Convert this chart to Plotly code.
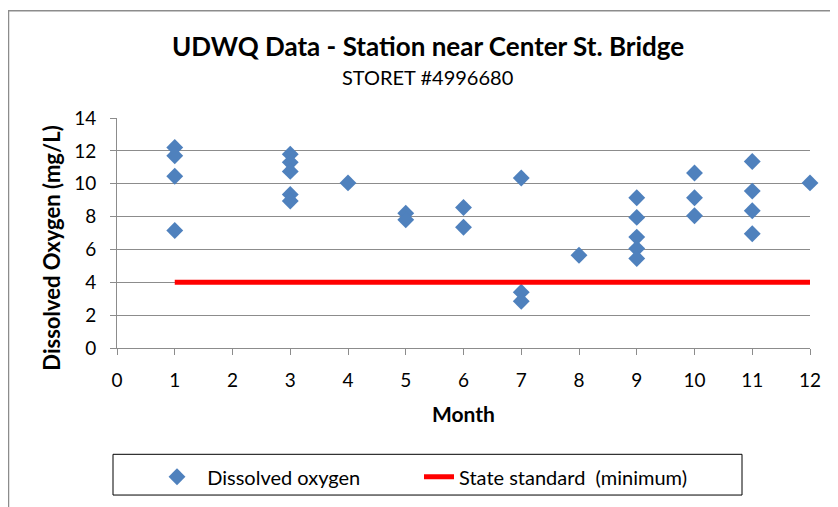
import plotly.graph_objects as go

# ---- data ----
months = [1, 1, 1, 1,
          3, 3, 3, 3, 3,
          4,
          5, 5,
          6, 6,
          7, 7, 7,
          8,
          9, 9, 9, 9, 9,
          10, 10, 10,
          11, 11, 11, 11,
          12]
dissolved_oxygen = [12.2, 11.7, 10.45, 7.15,
                    11.8, 11.3, 10.75, 9.35, 8.95,
                    10.05,
                    8.2, 7.8,
                    8.55, 7.35,
                    10.35, 3.4, 2.85,
                    5.65,
                    9.15, 7.95, 6.75, 6.05, 5.45,
                    10.65, 9.15, 8.05,
                    11.35, 9.55, 8.35, 6.95,
                    10.05]
standard_months = [1, 12]
standard_values = [4, 4]
x_ticks = list(range(0, 13))
y_ticks = list(range(0, 15, 2))

# page offset (the page body has an 8px margin)
OX, OY = 8, 8
W, H = 838 - OX, 507 - OY
# plot area in page pixels
P_LEFT, P_RIGHT, P_TOP, P_BOTTOM = 117, 810, 117.5, 349
L = P_LEFT - OX
R = W - (P_RIGHT - OX)
T = P_TOP - OY
B = H - (P_BOTTOM - OY)
PW, PH = P_RIGHT - P_LEFT, P_BOTTOM - P_TOP


def px(xp):
    return (xp - P_LEFT) / PW


def py(yp):
    return (P_BOTTOM - yp) / PH


FONT = "Lato"
GRID = "#8c8c8c"
NB = "\u00a0"

fig = go.Figure()
fig.add_trace(go.Scatter(
    x=months, y=dissolved_oxygen, mode="markers", name=NB * 2 + "Dissolved oxygen",
    marker=dict(symbol="diamond", size=13, color="#4F81BD",
                line=dict(width=0)),
    cliponaxis=False, legend="legend",
))
fig.add_trace(go.Scatter(
    x=standard_months, y=standard_values, mode="lines",
    name="State standard" + NB * 2 + "(minimum)",
    line=dict(color="#FF0000", width=5),
    cliponaxis=False, legend="legend2",
))

legend_common = dict(orientation="h", xanchor="left", yanchor="middle",
                     bgcolor="rgba(0,0,0,0)", borderwidth=0,
                     font=dict(family=FONT, size=20, color="black"))

fig.update_layout(
    width=W, height=H,
    margin=dict(l=L, r=R, t=T, b=B, pad=0),
    paper_bgcolor="white", plot_bgcolor="white",
    font=dict(family=FONT, size=19, color="black"),
    showlegend=True,
    legend=dict(x=px(157), y=py(477), **legend_common),
    legend2=dict(x=px(419), y=py(477), **legend_common),
    xaxis=dict(range=[0, 12], tickvals=x_ticks, ticktext=[str(v) for v in x_ticks],
               showgrid=False, zeroline=False, showline=True, linecolor=GRID,
               linewidth=1, ticks="outside", ticklen=6, tickcolor=GRID,
               ticklabelstandoff=9,
               tickfont=dict(family=FONT, size=19, color="black"),
               fixedrange=True),
    yaxis=dict(range=[0, 14], tickvals=y_ticks, ticktext=[str(v) for v in y_ticks],
               showgrid=True, gridcolor=GRID, gridwidth=1, zeroline=False,
               showline=True, linecolor=GRID, linewidth=1, ticks="outside",
               ticklen=6, tickcolor=GRID, ticklabelstandoff=10,
               tickfont=dict(family=FONT, size=19, color="black"),
               fixedrange=True),
)

annotations = [
    dict(text="<b>UDWQ Data - Station near Center St. Bridge</b>", x=px(428), y=py(45),
         font=dict(size=26)),
    dict(text="STORET #4996680", x=px(427), y=py(76), font=dict(size=20)),
    dict(text="<b>Month</b>", x=px(463), y=py(415), font=dict(size=21)),
    dict(text="<b>Dissolved Oxygen (mg/L)</b>", x=px(52), y=py(249), textangle=-90,
         font=dict(size=22)),
]
for a in annotations:
    fig.add_annotation(xref="paper", yref="paper", showarrow=False,
                       xanchor="center", yanchor="middle", **a)

# outer chart frame (top/left edges visible) and legend box
fig.add_shape(type="rect", xref="paper", yref="paper",
              x0=px(8.5), x1=px(900), y0=py(600), y1=py(9.5),
              line=dict(color="#8c8c8c", width=1.5), layer="below")
fig.add_shape(type="rect", xref="paper", yref="paper",
              x0=px(113), x1=px(742), y0=py(497), y1=py(456),
              line=dict(color="black", width=1), layer="below")

fig.write_html("out.html")
